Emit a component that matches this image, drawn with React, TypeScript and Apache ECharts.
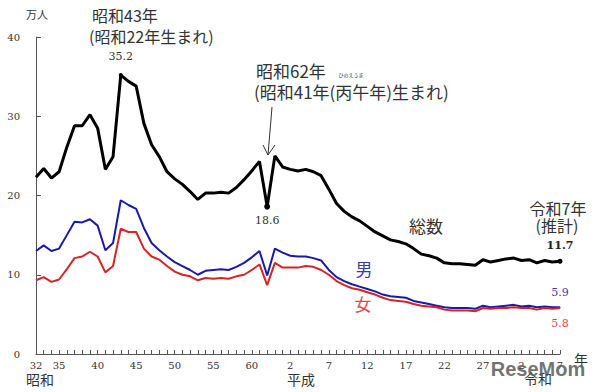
import React, { useEffect, useRef } from "react";
import * as echarts from "echarts";

const startYear = 1957;
const endYear = 2025;

// x tick labels (Japanese era years)
const tickYears = [1957, 1960, 1965, 1970, 1975, 1980, 1985, 1990, 1995, 2000, 2005, 2010, 2015, 2020, 2025];
const tickLabels = ["32", "35", "40", "45", "50", "55", "60", "2", "7", "12", "17", "22", "27", "2", "7"];

// 総数 (万人), 1957..2025
const totalValues = [
  22.3, 23.4, 22.2, 23.0, 26.1, 28.8, 28.8, 30.2, 28.5, 23.3,
  24.9, 35.2, 34.4, 33.8, 29.1, 26.4, 24.9, 23.0, 22.1, 21.4,
  20.5, 19.5, 20.3, 20.3, 20.4, 20.3, 21.0, 22.0, 23.1, 24.3,
  18.6, 25.0, 23.6, 23.3, 23.1, 23.3, 23.0, 22.5, 20.8, 19.0,
  18.0, 17.3, 16.8, 16.1, 15.4, 14.9, 14.4, 14.2, 13.9, 13.3,
  12.6, 12.4, 12.1, 11.5, 11.4, 11.4, 11.3, 11.2, 11.9, 11.6,
  11.8, 12.0, 12.1, 11.8, 11.9, 11.5, 11.8, 11.6, 11.7,
];
// 男
const maleValues = [
  13.0, 13.7, 13.0, 13.3, 15.0, 16.7, 16.6, 17.0, 16.2, 13.1,
  14.0, 19.4, 18.8, 18.3, 15.9, 14.0, 13.1, 12.3, 11.6, 11.1,
  10.6, 10.0, 10.5, 10.6, 10.7, 10.6, 11.0, 11.5, 12.2, 13.0,
  9.9, 13.3, 12.8, 12.4, 12.3, 12.3, 12.1, 11.8, 10.6, 9.7,
  9.2, 8.8, 8.5, 8.2, 7.9, 7.5, 7.3, 7.2, 7.1, 6.7,
  6.5, 6.3, 6.1, 5.9, 5.8, 5.8, 5.8, 5.7, 6.1, 5.9,
  6.0, 6.1, 6.2, 6.0, 6.1, 5.9, 6.0, 5.9, 5.9,
];
// 女
const femaleValues = [
  9.3, 9.7, 9.1, 9.4, 10.7, 12.1, 12.3, 12.9, 12.3, 10.3,
  11.1, 15.8, 15.4, 15.4, 13.3, 12.3, 11.9, 11.1, 10.4, 10.0,
  9.8, 9.3, 9.6, 9.5, 9.6, 9.5, 9.8, 10.0, 10.6, 11.3,
  8.7, 11.5, 10.9, 10.9, 10.9, 11.1, 11.0, 10.6, 10.0, 9.2,
  8.7, 8.3, 8.1, 7.8, 7.5, 7.1, 6.8, 6.7, 6.6, 6.3,
  6.1, 6.0, 5.9, 5.6, 5.5, 5.5, 5.5, 5.4, 5.8, 5.7,
  5.8, 5.8, 5.9, 5.8, 5.8, 5.6, 5.8, 5.7, 5.8,
];

const yTicks = [0, 10, 20, 30, 40];

const years: string[] = [];
for (let y = startYear; y <= endYear; y++) years.push(String(y));

const serifNum = "'DejaVu Serif', serif";
const jp = "'Noto Sans CJK JP', sans-serif";

export default function App() {
  const ref = useRef<HTMLDivElement>(null);

  useEffect(() => {
    if (!ref.current) return;
    const chart = echarts.init(ref.current, null, { renderer: "svg" });

    const labelMap: Record<string, string> = {};
    tickYears.forEach((y, i) => (labelMap[String(y)] = tickLabels[i]));

    const idx = (yr: number) => yr - startYear;
    const fmt = (p: any) => Number(p.value).toFixed(1);

    const labeled = (v: number, size: number, label: any) => ({
      value: v,
      symbol: "circle",
      symbolSize: size,
      label: { show: true, formatter: fmt, fontFamily: serifNum, fontSize: 11, ...label },
    });

    const totalData = totalValues.map((v, i) => {
      if (i === idx(1968)) return labeled(v, 4, { position: "top", distance: 11, color: "#333" });
      if (i === idx(1987)) return labeled(v, 6, { position: "bottom", distance: 5, color: "#333" });
      if (i === idx(2025)) return labeled(v, 5, { position: "top", distance: 8, color: "#222", fontWeight: "bold" });
      return v;
    });
    const maleData = maleValues.map((v, i) =>
      i === idx(2025) ? labeled(v, 1, { position: "top", distance: 9, color: "#3a3aa8" }) : v
    );
    const femaleData = femaleValues.map((v, i) =>
      i === idx(2025) ? labeled(v, 1, { position: "bottom", distance: 9, color: "#d84a4a" }) : v
    );

    const txt = (text: string, x: number, y: number, size: number, color = "#333", family = jp, align = "center") => ({
      type: "text",
      x,
      y,
      z: 100,
      style: {
        text,
        fill: color,
        font: `${size}px ${family}`,
        textAlign: align,
        textVerticalAlign: "middle",
      },
    });

    const lineSeries = (name: string, data: any[], color: string, width: number, z: number) => ({
      name,
      type: "line",
      data,
      showSymbol: true,
      showAllSymbol: true,
      symbol: "none",
      lineStyle: { color, width },
      itemStyle: { color },
      label: { show: false },
      labelLayout: { hideOverlap: false },
      emphasis: { disabled: true },
      z,
    });

    chart.setOption({
      animation: false,
      backgroundColor: "#ffffff",
      grid: { left: 36, right: 40, top: 37, bottom: 38 },
      xAxis: {
        type: "category",
        data: years,
        boundaryGap: false,
        axisLine: { lineStyle: { color: "#555", width: 1 } },
        axisTick: { show: true, inside: true, length: 4, interval: 0, lineStyle: { color: "#555" } },
        axisLabel: {
          interval: (index: number, value: string) => labelMap[value] !== undefined,
          formatter: (value: string) => labelMap[value] ?? "",
          color: "#333",
          fontFamily: serifNum,
          fontSize: 10,
          margin: 6,
        },
        splitLine: { show: false },
      },
      yAxis: {
        type: "value",
        min: yTicks[0],
        max: yTicks[yTicks.length - 1],
        interval: 10,
        axisLine: { show: true, lineStyle: { color: "#555", width: 1 } },
        axisTick: { show: true, inside: true, length: 5, lineStyle: { color: "#555" } },
        axisLabel: { color: "#333", fontFamily: serifNum, fontSize: 10, margin: 16 },
        splitLine: { show: false },
      },
      series: [
        lineSeries("総数", totalData, "#000000", 3, 3),
        lineSeries("男", maleData, "#1a1aa6", 2, 4),
        lineSeries("女", femaleData, "#d42424", 2, 5),
      ],
      graphic: [
        txt("万人", 37, 14, 11, "#333"),
        txt("昭和43年", 92, 15, 16, "#333", jp, "left"),
        txt("(昭和22年生まれ)", 89, 36, 16, "#333", jp, "left"),
        txt("昭和62年", 256, 70, 17, "#333", jp, "left"),
        txt("ひのえうま", 351, 74, 5, "#333"),
        txt("(昭和41年(丙午年)生まれ)", 254, 91, 17, "#333", jp, "left"),
        {
          type: "line",
          z: 100,
          shape: { x1: 272, y1: 107, x2: 268, y2: 155 },
          style: { stroke: "#333", lineWidth: 1 },
        },
        {
          type: "polyline",
          z: 100,
          shape: { points: [[263, 145], [268, 155], [275, 145]] },
          style: { stroke: "#333", lineWidth: 1, fill: null },
        },
        txt("総数", 426, 225, 17, "#333"),
        txt("令和7年", 558, 208, 16, "#333"),
        txt("(推計)", 557, 225, 16, "#333"),
        txt("男", 364, 268, 17, "#3a3aa8"),
        txt("女", 363, 303, 17, "#e04848"),
        txt("年", 581, 359, 14, "#333"),
        txt("昭和", 40, 379, 14, "#333"),
        txt("平成", 301, 379, 14, "#333"),
        txt("令和", 538, 378, 14, "#333"),
        {
          type: "text",
          x: 538,
          y: 369,
          z: 120,
          style: {
            text: "ReseMom",
            fill: "rgba(90,90,90,0.85)",
            font: "bold 20px 'Liberation Sans', sans-serif",
            textAlign: "center",
            textVerticalAlign: "middle",
          },
        },
      ],
    });

    return () => chart.dispose();
  }, []);

  return (
    <div
      ref={ref}
      style={{ position: "fixed", left: 0, top: 0, width: 600, height: 392, background: "#fff" }}
    />
  );
}
